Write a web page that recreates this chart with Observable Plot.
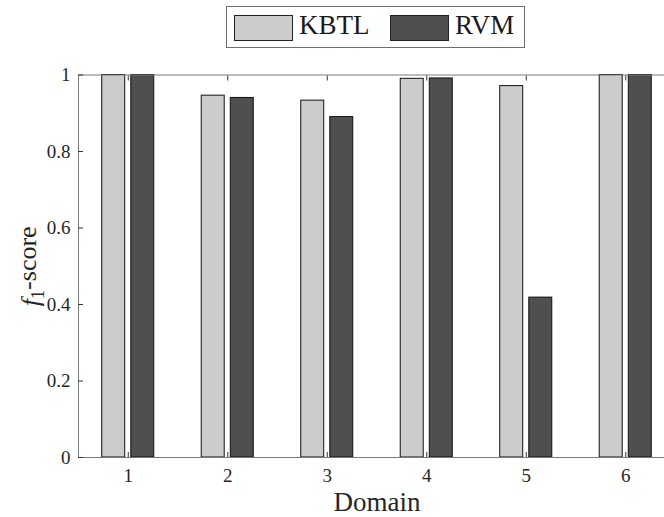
<!DOCTYPE html>
<html>
<head>
<meta charset="utf-8">
<script src="https://cdn.jsdelivr.net/npm/d3@7"></script>
<script src="https://cdn.jsdelivr.net/npm/@observablehq/plot@0.6"></script>
<style>
  html, body { margin: 0; padding: 0; overflow: hidden; background: #fff; width: 664px; height: 517px; }
  #legend { position: relative; height: 58px; font-family: "Liberation Serif", serif; color: #1a1a1a; }
  #legend .box { position: absolute; left: 226px; top: 6px; width: 299px; height: 42px; box-sizing: border-box; border: 1px solid #6e6e6e; background: #fff; }
  #legend .sw { position: absolute; top: 8px; width: 59px; height: 26px; box-sizing: border-box; border: 1px solid #222; }
  #legend .lab { position: absolute; top: 1px; font-size: 27px; line-height: 34px; }
  #chart { width: 664px; overflow: hidden; }
  #chart svg { display: block; max-width: none; }
</style>
</head>
<body>
<div id="legend"></div>
<div id="chart"></div>
<script>
// f1-scores per domain for the two methods
const domains = [1, 2, 3, 4, 5, 6];
const kbtl = [1.0, 0.946, 0.933, 0.990, 0.971, 1.0];
const rvm = [1.0, 0.940, 0.890, 0.991, 0.418, 1.0];
const seriesNames = ["KBTL", "RVM"];
const seriesColors = ["#cccccc", "#4f4f4f"];
const yTicks = [0, 0.2, 0.4, 0.6, 0.8, 1];
const yTickLabels = ["0", "0.2", "0.4", "0.6", "0.8", "1"];

const rows = domains.flatMap((d, i) => [
  {domain: d, series: seriesNames[0], value: kbtl[i]},
  {domain: d, series: seriesNames[1], value: rvm[i]}
]);

// grouped bars: each series sits a little left / right of its domain tick
const halfWidth = 0.1155;
const shift = 0.146;
const side = s => (s === seriesNames[0] ? -1 : 1);

const font = "'Liberation Serif', serif";

const chart = Plot.plot({
  width: 675,
  height: 459,
  marginLeft: 78,
  marginRight: 0,
  marginTop: 16.5,
  marginBottom: 60,
  style: {fontFamily: font, color: "#262626", background: "#fff", overflow: "visible", maxWidth: "none"},
  x: {domain: [0.5, 6.5]},
  y: {domain: [0, 1]},
  color: {domain: seriesNames, range: seriesColors},
  marks: [
    Plot.rect(rows, {
      x1: d => d.domain + side(d.series) * shift - halfWidth,
      x2: d => d.domain + side(d.series) * shift + halfWidth,
      y1: 0,
      y2: "value",
      fill: "series",
      stroke: "#111",
      strokeWidth: 1
    }),
    Plot.frame({stroke: "#7a7a7a", strokeWidth: 1}),
    // inward tick marks on all four sides
    Plot.axisX(domains, {anchor: "bottom", tickSize: -5, tickFormat: () => "", label: null, stroke: "#333"}),
    Plot.axisX(domains, {anchor: "top", tickSize: -5, tickFormat: () => "", label: null, stroke: "#333"}),
    Plot.axisY(yTicks, {anchor: "left", tickSize: -5, tickFormat: () => "", label: null, stroke: "#333"}),
    Plot.axisY(yTicks, {anchor: "right", tickSize: -5, tickFormat: () => "", label: null, stroke: "#333"}),
    // tick labels
    Plot.axisX(domains, {anchor: "bottom", tickSize: 0, tickPadding: 11, fontSize: 19, label: null, fill: "#262626", tickFormat: d => String(d)}),
    Plot.axisY(yTicks, {anchor: "left", tickSize: 0, tickPadding: 8, fontSize: 19, label: null, fill: "#262626",
      tickFormat: d => yTickLabels[yTicks.indexOf(d)]}),
    // axis titles
    Plot.text(["Domain"], {frameAnchor: "bottom", dy: 45, fontSize: 27, fill: "#262626", lineAnchor: "middle"}),
    Plot.text(["f1-score"], {frameAnchor: "left", dx: -48, rotate: -90, fontSize: 26, fill: "#262626", lineAnchor: "middle", className: "ylab"})
  ]
});

document.getElementById("chart").appendChild(chart);

// serif type everywhere, plain (proportional) digits
d3.select(chart).selectAll("g, text")
  .attr("font-family", font)
  .attr("font-variant", null)
  .style("font-family", font);

// y title: italic f with subscript 1, re-centred on the frame after the split
const ylab = d3.select(chart).select("g.ylab text");
if (!ylab.empty()) {
  ylab.text(null).attr("text-anchor", "start");
  ylab.append("tspan").attr("font-style", "italic").text("f");
  ylab.append("tspan").attr("font-size", 18).attr("dy", "0.3em").text("1");
  ylab.append("tspan").attr("dy", "-0.3em").text("-score");
  const len = ylab.node().getComputedTextLength();
  ylab.attr("x", -len / 2);
}

// legend
const legend = d3.select("#legend");
const box = legend.append("div").attr("class", "box");
const legendPos = [{sw: 7, lab: 72}, {sw: 163, lab: 228}];
seriesNames.forEach((name, i) => {
  box.append("div").attr("class", "sw")
    .style("left", legendPos[i].sw + "px")
    .style("background", seriesColors[i]);
  box.append("div").attr("class", "lab")
    .style("left", legendPos[i].lab + "px")
    .text(name);
});
</script>
</body>
</html>
